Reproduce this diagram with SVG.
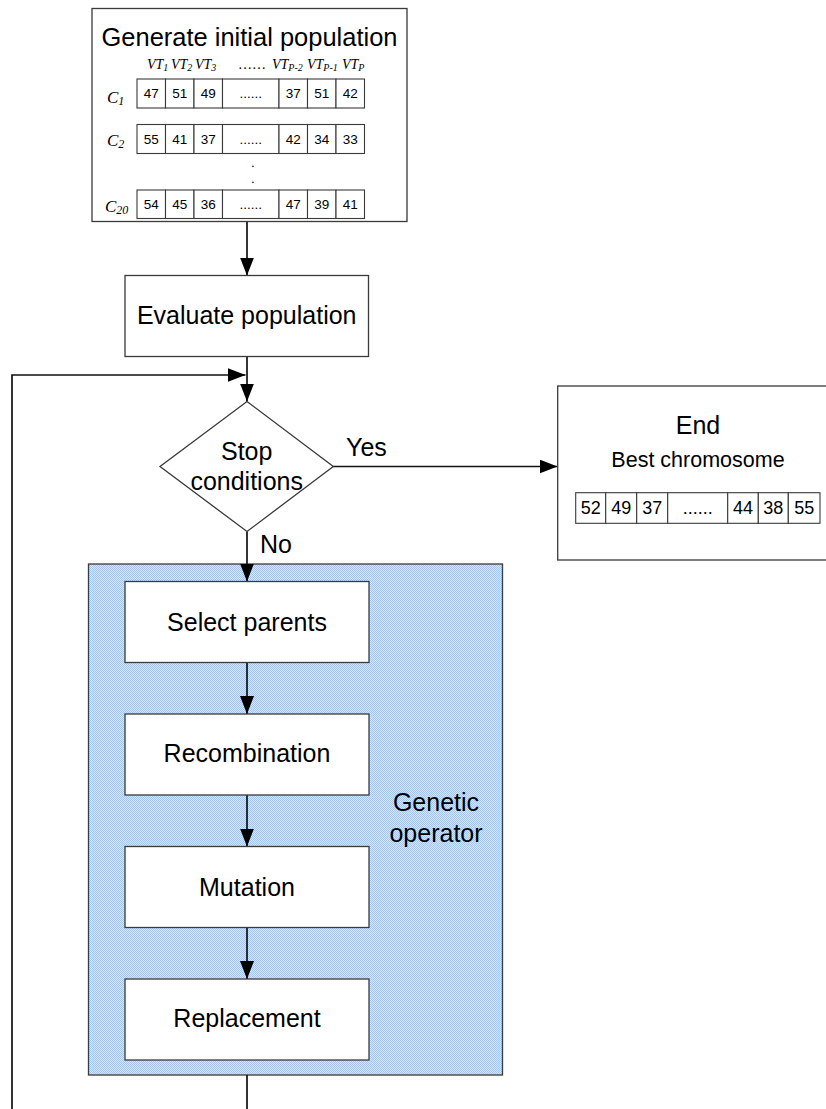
<svg xmlns="http://www.w3.org/2000/svg" width="826" height="1109" viewBox="0 0 826 1109">
  <defs>
    <style>
      .box { fill: #ffffff; stroke: #3a3a3a; stroke-width: 1.3; }
      .cell { fill: #ffffff; stroke: #3a3a3a; stroke-width: 1.1; }
      .wire { fill: none; stroke: #111111; stroke-width: 1.7; }
      .t { font-family: "Liberation Sans", Arial, sans-serif; fill: #000000; }
      .big { font-size: 25px; }
      .mid { font-size: 21.5px; }
      .num { font-size: 13.5px; }
      .num2 { font-size: 18px; }
      .it { font-family: "Liberation Serif", "Times New Roman", serif; font-style: italic; fill: #000000; }
      .vt { font-size: 14px; }
      .cl { font-size: 17px; }
      .sub { font-size: 10px; }
      .sub2 { font-size: 12px; }
    </style>
    <pattern id="dither" width="2" height="2" patternUnits="userSpaceOnUse">
      <rect width="2" height="2" fill="#d8e6f8"/>
      <rect width="1" height="1" fill="#a6c3ec"/>
      <rect x="1" y="1" width="1" height="1" fill="#a6c3ec"/>
    </pattern>
    <marker id="arrow" markerUnits="userSpaceOnUse" markerWidth="18" markerHeight="14" refX="18" refY="7" orient="auto">
      <path d="M0,0 L18,7 L0,14 z" fill="#000000"/>
    </marker>
  </defs>

  <!-- genetic operator container -->
  <g id="genetic-operator">
    <rect x="88.5" y="564" width="414" height="511" fill="url(#dither)" stroke="#3a3a3a" stroke-width="1.3"/>
    <text class="t big" x="436" y="810.5" text-anchor="middle">Genetic</text>
    <text class="t big" x="436" y="841.5" text-anchor="middle">operator</text>
  </g>

  <!-- connectors -->
  <g id="connectors">
    <line class="wire" x1="247" y1="221" x2="247" y2="275.5" marker-end="url(#arrow)"/>
    <line class="wire" x1="247" y1="356.5" x2="247" y2="401.5" marker-end="url(#arrow)"/>
    <path class="wire" d="M247,1075 V1120 H12 V375 H245.5" marker-end="url(#arrow)"/>
    <line class="wire" x1="333" y1="466.5" x2="557.5" y2="466.5" marker-end="url(#arrow)"/>
    <line class="wire" x1="247" y1="531.5" x2="247" y2="581.5" marker-end="url(#arrow)"/>
    <line class="wire" x1="247" y1="662.5" x2="247" y2="714" marker-end="url(#arrow)"/>
    <line class="wire" x1="247" y1="795" x2="247" y2="846.5" marker-end="url(#arrow)"/>
    <line class="wire" x1="247" y1="927.5" x2="247" y2="979" marker-end="url(#arrow)"/>
  </g>

  <!-- initial population -->
  <g id="init-population">
    <rect class="box" x="92" y="8.5" width="315" height="213"/>
    <text class="t big" x="249.5" y="46" text-anchor="middle" textLength="296" lengthAdjust="spacingAndGlyphs">Generate initial population</text>
    <g class="it vt">
      <text x="147" y="68.5">VT<tspan class="sub" dy="2.5">1</tspan></text>
      <text x="171" y="68.5">VT<tspan class="sub" dy="2.5">2</tspan></text>
      <text x="195" y="68.5">VT<tspan class="sub" dy="2.5">3</tspan></text>
      <text x="238" y="68.5" font-style="normal">……</text>
      <text x="272" y="68.5">VT<tspan class="sub" dy="2.5">P-2</tspan></text>
      <text x="307" y="68.5">VT<tspan class="sub" dy="2.5">P-1</tspan></text>
      <text x="342" y="68.5">VT<tspan class="sub" dy="2.5">P</tspan></text>
    </g>
    <g class="it cl">
      <text x="107" y="103">C<tspan class="sub2" dy="2">1</tspan></text>
      <text x="107" y="145.5">C<tspan class="sub2" dy="2">2</tspan></text>
      <text x="105" y="211.5">C<tspan class="sub2" dy="2">20</tspan></text>
    </g>
    <!-- row C1 -->
    <g>
      <rect class="cell" x="137" y="79" width="28.5" height="29"/>
      <rect class="cell" x="165.5" y="79" width="28.5" height="29"/>
      <rect class="cell" x="194" y="79" width="28.5" height="29"/>
      <rect class="cell" x="222.5" y="79" width="56.5" height="29"/>
      <rect class="cell" x="279" y="79" width="28.5" height="29"/>
      <rect class="cell" x="307.5" y="79" width="28.5" height="29"/>
      <rect class="cell" x="336" y="79" width="28.5" height="29"/>
      <g class="t num" text-anchor="middle">
        <text x="151.3" y="98">47</text>
        <text x="179.8" y="98">51</text>
        <text x="208.3" y="98">49</text>
        <text x="250.8" y="98">......</text>
        <text x="293.3" y="98">37</text>
        <text x="321.8" y="98">51</text>
        <text x="350.3" y="98">42</text>
      </g>
    </g>
    <!-- row C2 -->
    <g>
      <rect class="cell" x="137" y="124.5" width="28.5" height="29"/>
      <rect class="cell" x="165.5" y="124.5" width="28.5" height="29"/>
      <rect class="cell" x="194" y="124.5" width="28.5" height="29"/>
      <rect class="cell" x="222.5" y="124.5" width="56.5" height="29"/>
      <rect class="cell" x="279" y="124.5" width="28.5" height="29"/>
      <rect class="cell" x="307.5" y="124.5" width="28.5" height="29"/>
      <rect class="cell" x="336" y="124.5" width="28.5" height="29"/>
      <g class="t num" text-anchor="middle">
        <text x="151.3" y="143.5">55</text>
        <text x="179.8" y="143.5">41</text>
        <text x="208.3" y="143.5">37</text>
        <text x="250.8" y="143.5">......</text>
        <text x="293.3" y="143.5">42</text>
        <text x="321.8" y="143.5">34</text>
        <text x="350.3" y="143.5">33</text>
      </g>
    </g>
    <g class="t num" text-anchor="middle">
      <text x="253" y="167">.</text>
      <text x="253" y="183">.</text>
    </g>
    <!-- row C20 -->
    <g>
      <rect class="cell" x="137" y="190" width="28.5" height="28.5"/>
      <rect class="cell" x="165.5" y="190" width="28.5" height="28.5"/>
      <rect class="cell" x="194" y="190" width="28.5" height="28.5"/>
      <rect class="cell" x="222.5" y="190" width="56.5" height="28.5"/>
      <rect class="cell" x="279" y="190" width="28.5" height="28.5"/>
      <rect class="cell" x="307.5" y="190" width="28.5" height="28.5"/>
      <rect class="cell" x="336" y="190" width="28.5" height="28.5"/>
      <g class="t num" text-anchor="middle">
        <text x="151.3" y="209">54</text>
        <text x="179.8" y="209">45</text>
        <text x="208.3" y="209">36</text>
        <text x="250.8" y="209">......</text>
        <text x="293.3" y="209">47</text>
        <text x="321.8" y="209">39</text>
        <text x="350.3" y="209">41</text>
      </g>
    </g>
  </g>

  <!-- evaluation -->
  <g id="evaluate">
    <rect class="box" x="125" y="275.5" width="243.5" height="81"/>
    <text class="t big" x="246.7" y="324" text-anchor="middle">Evaluate population</text>
  </g>

  <!-- decision -->
  <g id="stop-check">
    <polygon class="box" points="247,401.5 333.3,466.5 247,531.5 160,466.5" stroke-width="1.1"/>
    <text class="t big" x="246.7" y="460" text-anchor="middle">Stop</text>
    <text class="t big" x="246.7" y="490" text-anchor="middle">conditions</text>
    <text class="t big" x="346" y="456">Yes</text>
    <text class="t big" x="260" y="553">No</text>
  </g>

  <!-- end -->
  <g id="end">
    <rect class="box" x="557.7" y="386" width="280" height="174"/>
    <text class="t big" x="698" y="434" text-anchor="middle">End</text>
    <text class="t mid" x="698" y="467" text-anchor="middle">Best chromosome</text>
    <rect class="cell" x="575.7" y="492.7" width="30" height="30.6"/>
    <rect class="cell" x="605.7" y="492.7" width="31" height="30.6"/>
    <rect class="cell" x="636.7" y="492.7" width="31" height="30.6"/>
    <rect class="cell" x="667.7" y="492.7" width="60" height="30.6"/>
    <rect class="cell" x="727.7" y="492.7" width="30.6" height="30.6"/>
    <rect class="cell" x="758.3" y="492.7" width="30" height="30.6"/>
    <rect class="cell" x="788.3" y="492.7" width="31.7" height="30.6"/>
    <g class="t num2" text-anchor="middle">
      <text x="590.7" y="514">52</text>
      <text x="621.2" y="514">49</text>
      <text x="652.2" y="514">37</text>
      <text x="697.7" y="514">......</text>
      <text x="743" y="514">44</text>
      <text x="773.3" y="514">38</text>
      <text x="804.2" y="514">55</text>
    </g>
  </g>

  <!-- operator steps -->
  <g id="select-parents">
    <rect class="box" x="125" y="581.5" width="244" height="81"/>
    <text class="t big" x="247" y="630.5" text-anchor="middle">Select parents</text>
  </g>
  <g id="recombination">
    <rect class="box" x="125" y="714" width="244" height="81"/>
    <text class="t big" x="247" y="761.5" text-anchor="middle">Recombination</text>
  </g>
  <g id="mutation">
    <rect class="box" x="125" y="846.5" width="244" height="81"/>
    <text class="t big" x="247" y="895.5" text-anchor="middle">Mutation</text>
  </g>
  <g id="replacement">
    <rect class="box" x="125" y="979" width="244" height="81"/>
    <text class="t big" x="247" y="1026.5" text-anchor="middle">Replacement</text>
  </g>
</svg>
